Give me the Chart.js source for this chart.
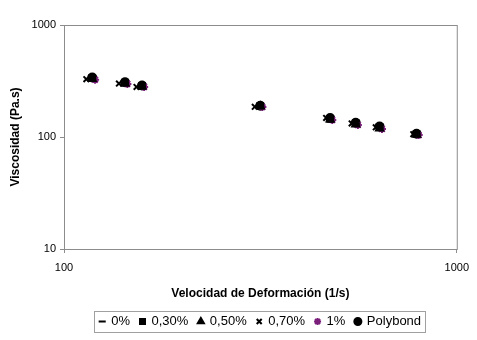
<!DOCTYPE html>
<html>
<head>
<meta charset="utf-8">
<script src="https://cdn.jsdelivr.net/npm/chart.js@4"></script>
<style>
  body{margin:0;background:#fff;}
  #wrap{width:477px;height:340px;}
</style>
</head>
<body>
<div id="wrap"><canvas id="visc" width="477" height="340"></canvas></div>
<script>
// shear rate (1/s) and viscosity (Pa.s)
const seriesNames = ['0%', '0,30%', '0,50%', '0,70%', '1%', 'Polybond'];
const rates = [118, 143, 158, 316, 476, 553, 636, 790];
const rates070 = [114, 138, 153, 306, 465, 540, 622, 775];
const rates1 = [120, 145, 160, 320, 482, 560, 645, 800];
const visc0 = [332, 303, 283, 187, 147, 131, 121, 106];
const visc030 = [338, 306, 286, 190, 145, 133, 123, 107];
const visc050 = [330, 300, 282, 188, 143, 129, 119, 105];
const visc070 = [328, 300, 280, 186, 148, 132, 122, 106];
const visc1 = [325, 298, 280, 185, 142, 128, 118, 104];
const viscPoly = [340, 308, 288, 190, 148, 134, 124, 107];
const xTicks = [100, 1000];
const yTicks = [10, 100, 1000];

function pts(xs, ys){
  return xs.map((x, i) => ({x: x, y: ys[i]}));
}

const axisGray = '#8c8c8c';
const tickFont = {family: "'Liberation Sans', Arial, sans-serif", size: 11};
const titleFont = {family: "'Liberation Sans', Arial, sans-serif", size: 12, weight: 'bold'};

// plot frame + box round the legend
const frame = {
  id: 'frame',
  afterDraw(chart){
    const c = chart.ctx, a = chart.chartArea;
    c.save();
    c.strokeStyle = axisGray;
    c.lineWidth = 1;
    c.strokeRect(a.left + 0.5, a.top + 0.5, a.right - a.left, a.bottom - a.top);
    const boxes = chart.legend.legendHitBoxes;
    if(boxes && boxes.length){
      let l = Infinity, r = -Infinity, t = Infinity, b = -Infinity;
      boxes.forEach(h => {
        l = Math.min(l, h.left); r = Math.max(r, h.left + h.width);
        t = Math.min(t, h.top); b = Math.max(b, h.top + h.height);
      });
      c.strokeStyle = '#a0a0a0';
      c.strokeRect(Math.round(l - 6) + 0.5, Math.round(t - 4) + 0.5, Math.round(r - l + 10), Math.round(b - t + 8));
    }
    c.restore();
  }
};

const mk = (label, data, style, color, rot) => ({
  label: label,
  data: data,
  showLine: false,
  pointStyle: style,
  pointRotation: rot || 0,
  pointRadius: 4,
  borderWidth: 2,
  borderColor: color,
  backgroundColor: color
});

new Chart(document.getElementById('visc'), {
  type: 'scatter',
  data: {
    datasets: [
      mk(seriesNames[0], pts(rates, visc0), 'line', '#000'),
      mk(seriesNames[1], pts(rates, visc030), 'rect', '#000'),
      mk(seriesNames[2], pts(rates, visc050), 'triangle', '#000'),
      mk(seriesNames[3], pts(rates070, visc070), 'crossRot', '#000'),
      mk(seriesNames[4], pts(rates1, visc1), 'star', '#7a1f7a'),
      mk(seriesNames[5], pts(rates, viscPoly), 'circle', '#000')
    ]
  },
  options: {
    responsive: false,
    animation: false,
    layout: {padding: {left: 4, right: 9, top: 25, bottom: 2}},
    plugins: {
      tooltip: {enabled: false},
      legend: {
        position: 'bottom',
        fullSize: false,
        labels: {
          usePointStyle: true,
          boxWidth: 5,
          boxHeight: 5,
          padding: 10,
          color: '#000',
          font: {family: "'Liberation Sans', Arial, sans-serif", size: 13}
        }
      }
    },
    scales: {
      x: {
        type: 'logarithmic',
        min: 100,
        max: 1000,
        afterBuildTicks: s => { s.ticks = xTicks.map(v => ({value: v})); },
        afterFit: s => { s.height = 56; },
        border: {color: axisGray},
        grid: {display: true, drawOnChartArea: false, tickLength: 4, color: axisGray},
        ticks: {color: '#000', font: tickFont, maxRotation: 0, padding: 8,
          callback: v => String(v)},
        title: {display: true, text: 'Velocidad de Deformación (1/s)', color: '#000',
          font: titleFont, padding: {top: 0, bottom: 4}}
      },
      y: {
        type: 'logarithmic',
        min: 10,
        max: 1000,
        afterBuildTicks: s => { s.ticks = yTicks.map(v => ({value: v})); },
        afterFit: s => { s.width = 60; },
        border: {color: axisGray},
        grid: {display: true, drawOnChartArea: false, tickLength: 4, color: axisGray},
        ticks: {color: '#000', font: tickFont, padding: 4, callback: v => String(v)},
        title: {display: true, text: 'Viscosidad (Pa.s)', color: '#000',
          font: titleFont, padding: {bottom: 6}}
      }
    }
  },
  plugins: [frame]
});
</script>
</body>
</html>
